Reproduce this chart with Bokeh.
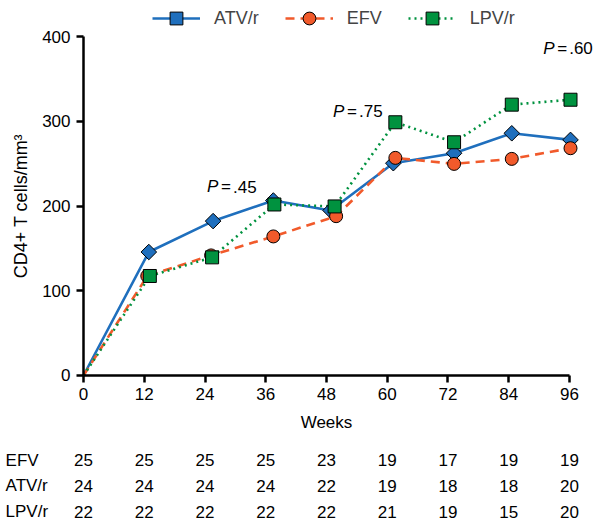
import numpy as np
from bokeh.plotting import figure
from bokeh.models import Range1d, FixedTicker, Legend, LegendItem
from bokeh.core.properties import value
from bokeh.embed import file_html
from bokeh.resources import INLINE

# ---------------- data ----------------
weeks = [0, 12, 24, 36, 48, 60, 72, 84, 96]
y_ticks = [0, 100, 200, 300, 400]

# plotted (slightly jittered) week positions and CD4+ counts
atv_x = [0, 12.9, 25.6, 37.5, 48.8, 61.2, 73.2, 84.6, 96.2]
atv_y = [0, 145.7, 182.2, 206.5, 194.7, 250.5, 262.3, 285.8, 278.0]
efv_x = [0, 12.6, 25.2, 37.5, 49.9, 61.6, 73.2, 84.6, 96.2]
efv_y = [0, 117.4, 141.7, 164.1, 188.0, 256.8, 249.7, 255.6, 268.2]
lpv_x = [0, 13.1, 25.4, 37.7, 49.6, 61.6, 73.2, 84.6, 96.2]
lpv_y = [0, 117.4, 139.4, 201.8, 199.5, 298.8, 275.2, 319.6, 325.4]

# numbers at risk
table_rows = ["EFV", "ATV/r", "LPV/r"]
efv_n = [25, 25, 25, 25, 23, 19, 17, 19, 19]
atv_n = [24, 24, 24, 24, 22, 19, 18, 18, 20]
lpv_n = [22, 22, 22, 22, 22, 21, 19, 15, 20]

# P-value annotations
p_values = [".45", ".75", ".60"]
p_at_week = [24.4, 49.3, 90.8]
p_at_y = [223, 312, 386]

FONT = "Liberation Sans"
C_ATV = "#1f6fbd"
C_EFV = "#f15a2b"
C_LPV = "#00923f"

p = figure(width=594, height=521,
           x_range=Range1d(-16.40, 100.94), y_range=Range1d(-172.3, 442.5),
           output_backend="svg", toolbar_location=None,
           min_border=0, min_border_left=0, min_border_right=0,
           min_border_top=0, min_border_bottom=0)
p.grid.visible = False
p.outline_line_color = None
p.background_fill_color = "white"

# axes
xa = p.xaxis[0]
xa.fixed_location = 0
xa.bounds = (0, 96)
xa.ticker = FixedTicker(ticks=weeks)
xa.axis_label = "Weeks"
ya = p.yaxis[0]
ya.fixed_location = 0
ya.bounds = (0, 400)
ya.ticker = FixedTicker(ticks=y_ticks)
ya.axis_label = "CD4+ T cells/mm\u00b3"
for ax in (xa, ya):
    ax.axis_line_width = 2.5
    ax.axis_line_color = "black"
    ax.major_tick_line_width = 2.5
    ax.major_tick_line_color = "black"
    ax.major_tick_in = 0
    ax.major_tick_out = 7
    ax.minor_tick_line_color = None
    ax.major_label_text_font = FONT
    ax.major_label_text_font_size = "17px"
    ax.major_label_text_color = "black"
    ax.axis_label_text_font = FONT
    ax.axis_label_text_font_style = "normal"
    ax.axis_label_text_color = "black"
xa.axis_label_text_font_size = "17px"
ya.axis_label_text_font_size = "18px"
xa.major_label_standoff = 6
xa.axis_label_standoff = 9
ya.major_label_standoff = 6
ya.axis_label_standoff = 8

# lines
l_atv = p.line(atv_x, atv_y, line_color=C_ATV, line_width=2.6)
l_efv = p.line(efv_x, efv_y, line_color=C_EFV, line_width=2.6, line_dash="9 6")
l_lpv = p.line(lpv_x, lpv_y, line_color=C_LPV, line_width=2.6, line_dash="2 4")

# markers (no marker at baseline)
s_atv = p.scatter(atv_x[1:], atv_y[1:], marker="square", angle=np.pi / 4, size=11,
                  fill_color=C_ATV, line_color="black", line_width=1)
s_efv = p.scatter(efv_x[1:], efv_y[1:], marker="circle", size=13,
                  fill_color=C_EFV, line_color="black", line_width=1)
s_lpv = p.scatter(lpv_x[1:], lpv_y[1:], marker="square", size=13,
                  fill_color=C_LPV, line_color="black", line_width=1)

# P annotations: italic P, "=", value
txt = dict(text_font=value(FONT), text_font_size="17px", text_align="left",
           text_baseline="middle", text_color="black")
p.text(p_at_week, p_at_y, text=["P"] * 3, text_font_style="italic", **txt)
p.text(p_at_week, p_at_y, text=["="] * 3, x_offset=14, **txt)
p.text(p_at_week, p_at_y, text=p_values, x_offset=26, **txt)

# numbers-at-risk table
row_y0 = -100.3
row_gap = 30.1
for i, (name, counts) in enumerate(zip(table_rows, [efv_n, atv_n, lpv_n])):
    ry = row_y0 - i * row_gap
    p.text(weeks, [ry] * len(weeks), text=[str(c) for c in counts],
           text_font=value(FONT), text_font_size="17px", text_align="center",
           text_baseline="middle", text_color="black")
    p.text([-15.4], [ry], text=[name], text_font=value(FONT), text_font_size="17px",
           text_align="left", text_baseline="middle", text_color="black")

legend = Legend(items=[LegendItem(label="ATV/r", renderers=[l_atv, s_atv]),
                       LegendItem(label="EFV", renderers=[l_efv, s_efv]),
                       LegendItem(label="LPV/r", renderers=[l_lpv, s_lpv])],
                orientation="horizontal", location=(152, 487),
                glyph_width=48, glyph_height=32, label_standoff=14, spacing=26,
                padding=0, margin=0, background_fill_alpha=0, border_line_color=None,
                label_text_font=FONT, label_text_font_size="18px", label_height=20)
p.add_layout(legend)

open("out.html", "w").write(file_html(p, INLINE))
